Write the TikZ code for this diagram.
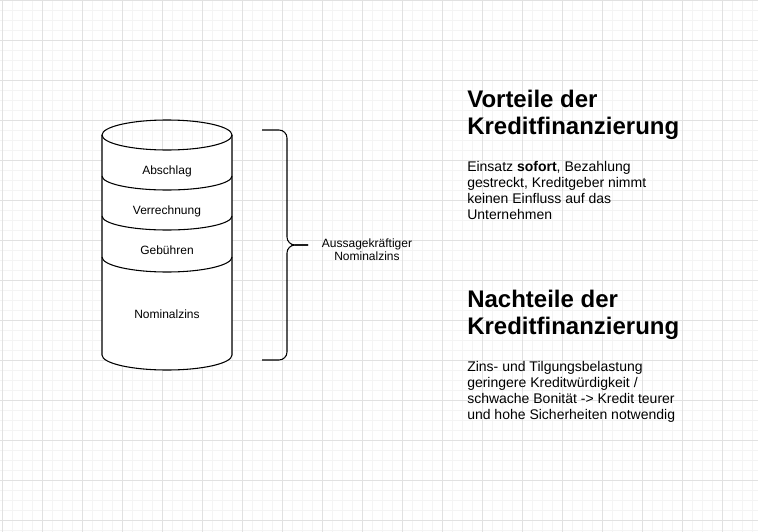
\documentclass[tikz,border=0pt]{standalone}
\usepackage{fontspec}
\setmainfont{Liberation Sans}
\usepackage{xcolor}
\usepackage{tikz}
\usetikzlibrary{positioning}
\definecolor{gridmajor}{HTML}{E1E1E1}
\definecolor{gridminor}{HTML}{F4F4F4}
\tikzset{cyl/.style={draw=black,line width=0.8pt},
         brace/.style={draw=black,line width=0.8pt,rounded corners=6pt},
         lbl/.style={inner sep=0pt,font=\fontsize{9}{10.5}\selectfont},
         head/.style={inner sep=0pt,align=left,anchor=north west,font=\fontsize{18}{20.25}\selectfont\bfseries},
         body/.style={inner sep=0pt,align=left,anchor=north west,font=\fontsize{10.5}{12}\selectfont}}

\begin{document}
\begin{tikzpicture}[x=0.75pt,y=-0.75pt]
    \useasboundingbox (0,0) rectangle (758,532);
    \fill[white] (0,0) rectangle (758,532);
    \foreach \gx in {2,12,...,752} \draw[gridminor,line width=0.75pt] (\gx,0) -- (\gx,532);
    \foreach \gy in {0,10,...,530} \draw[gridminor,line width=0.75pt] (0,\gy) -- (758,\gy);
    \foreach \gx in {2,42,...,722} \draw[gridmajor,line width=0.75pt] (\gx,0) -- (\gx,532);
    \foreach \gy in {0,40,...,520} \draw[gridmajor,line width=0.75pt] (0,\gy) -- (758,\gy);

    \fill[white] (102,135) -- (102,355) arc[start angle=180,end angle=0,x radius=65,y radius=15] -- (232,135) arc[start angle=0,end angle=180,x radius=65,y radius=15] -- cycle;
    \draw[cyl] (102,135) -- (102,355) arc[start angle=180,end angle=0,x radius=65,y radius=15] -- (232,135);
    \draw[cyl] (167,135) ellipse[x radius=65,y radius=15];
    \draw[cyl] (102,176) arc[start angle=180,end angle=0,x radius=65,y radius=14];
    \draw[cyl] (102,216) arc[start angle=180,end angle=0,x radius=65,y radius=14];
    \draw[cyl] (102,257) arc[start angle=180,end angle=0,x radius=65,y radius=15];

    \node[lbl] (abschlag) at (167,171) {Abschlag};
    \node[lbl] (verrechnung) at (167,211) {Verrechnung};
    \node[lbl] (gebuehren) at (167,250) {Gebühren};
    \node[lbl] (nominalzins) at (167,314) {Nominalzins};

    \coordinate (btop) at (262,130);
    \coordinate (bbot) at (262,360);
    \coordinate (bmid) at (287,245);
    \coordinate (btip) at (308,245);
    \draw[brace] (btop) -| (bmid) -- (btip);
    \draw[brace] (bbot) -| (bmid) -- (btip);
    \node[lbl,align=center,font=\fontsize{9}{10}\selectfont] (aussage) at (367,250) {Aussagekräftiger\\Nominalzins};

    \node[head] (vorteile) at (467,90) {Vorteile der\\Kreditfinanzierung};
    \node[body] (vtext) at (467,161) {Einsatz \textbf{sofort}, Bezahlung\\gestreckt, Kreditgeber nimmt\\keinen Einfluss auf das\\Unternehmen};
    \node[head] (nachteile) at (467,290) {Nachteile der\\Kreditfinanzierung};
    \node[body] (ntext) at (467,361) {Zins- und Tilgungsbelastung\\geringere Kreditwürdigkeit /\\schwache Bonität -> Kredit teurer\\und hohe Sicherheiten notwendig};
\end{tikzpicture}
\end{document}
